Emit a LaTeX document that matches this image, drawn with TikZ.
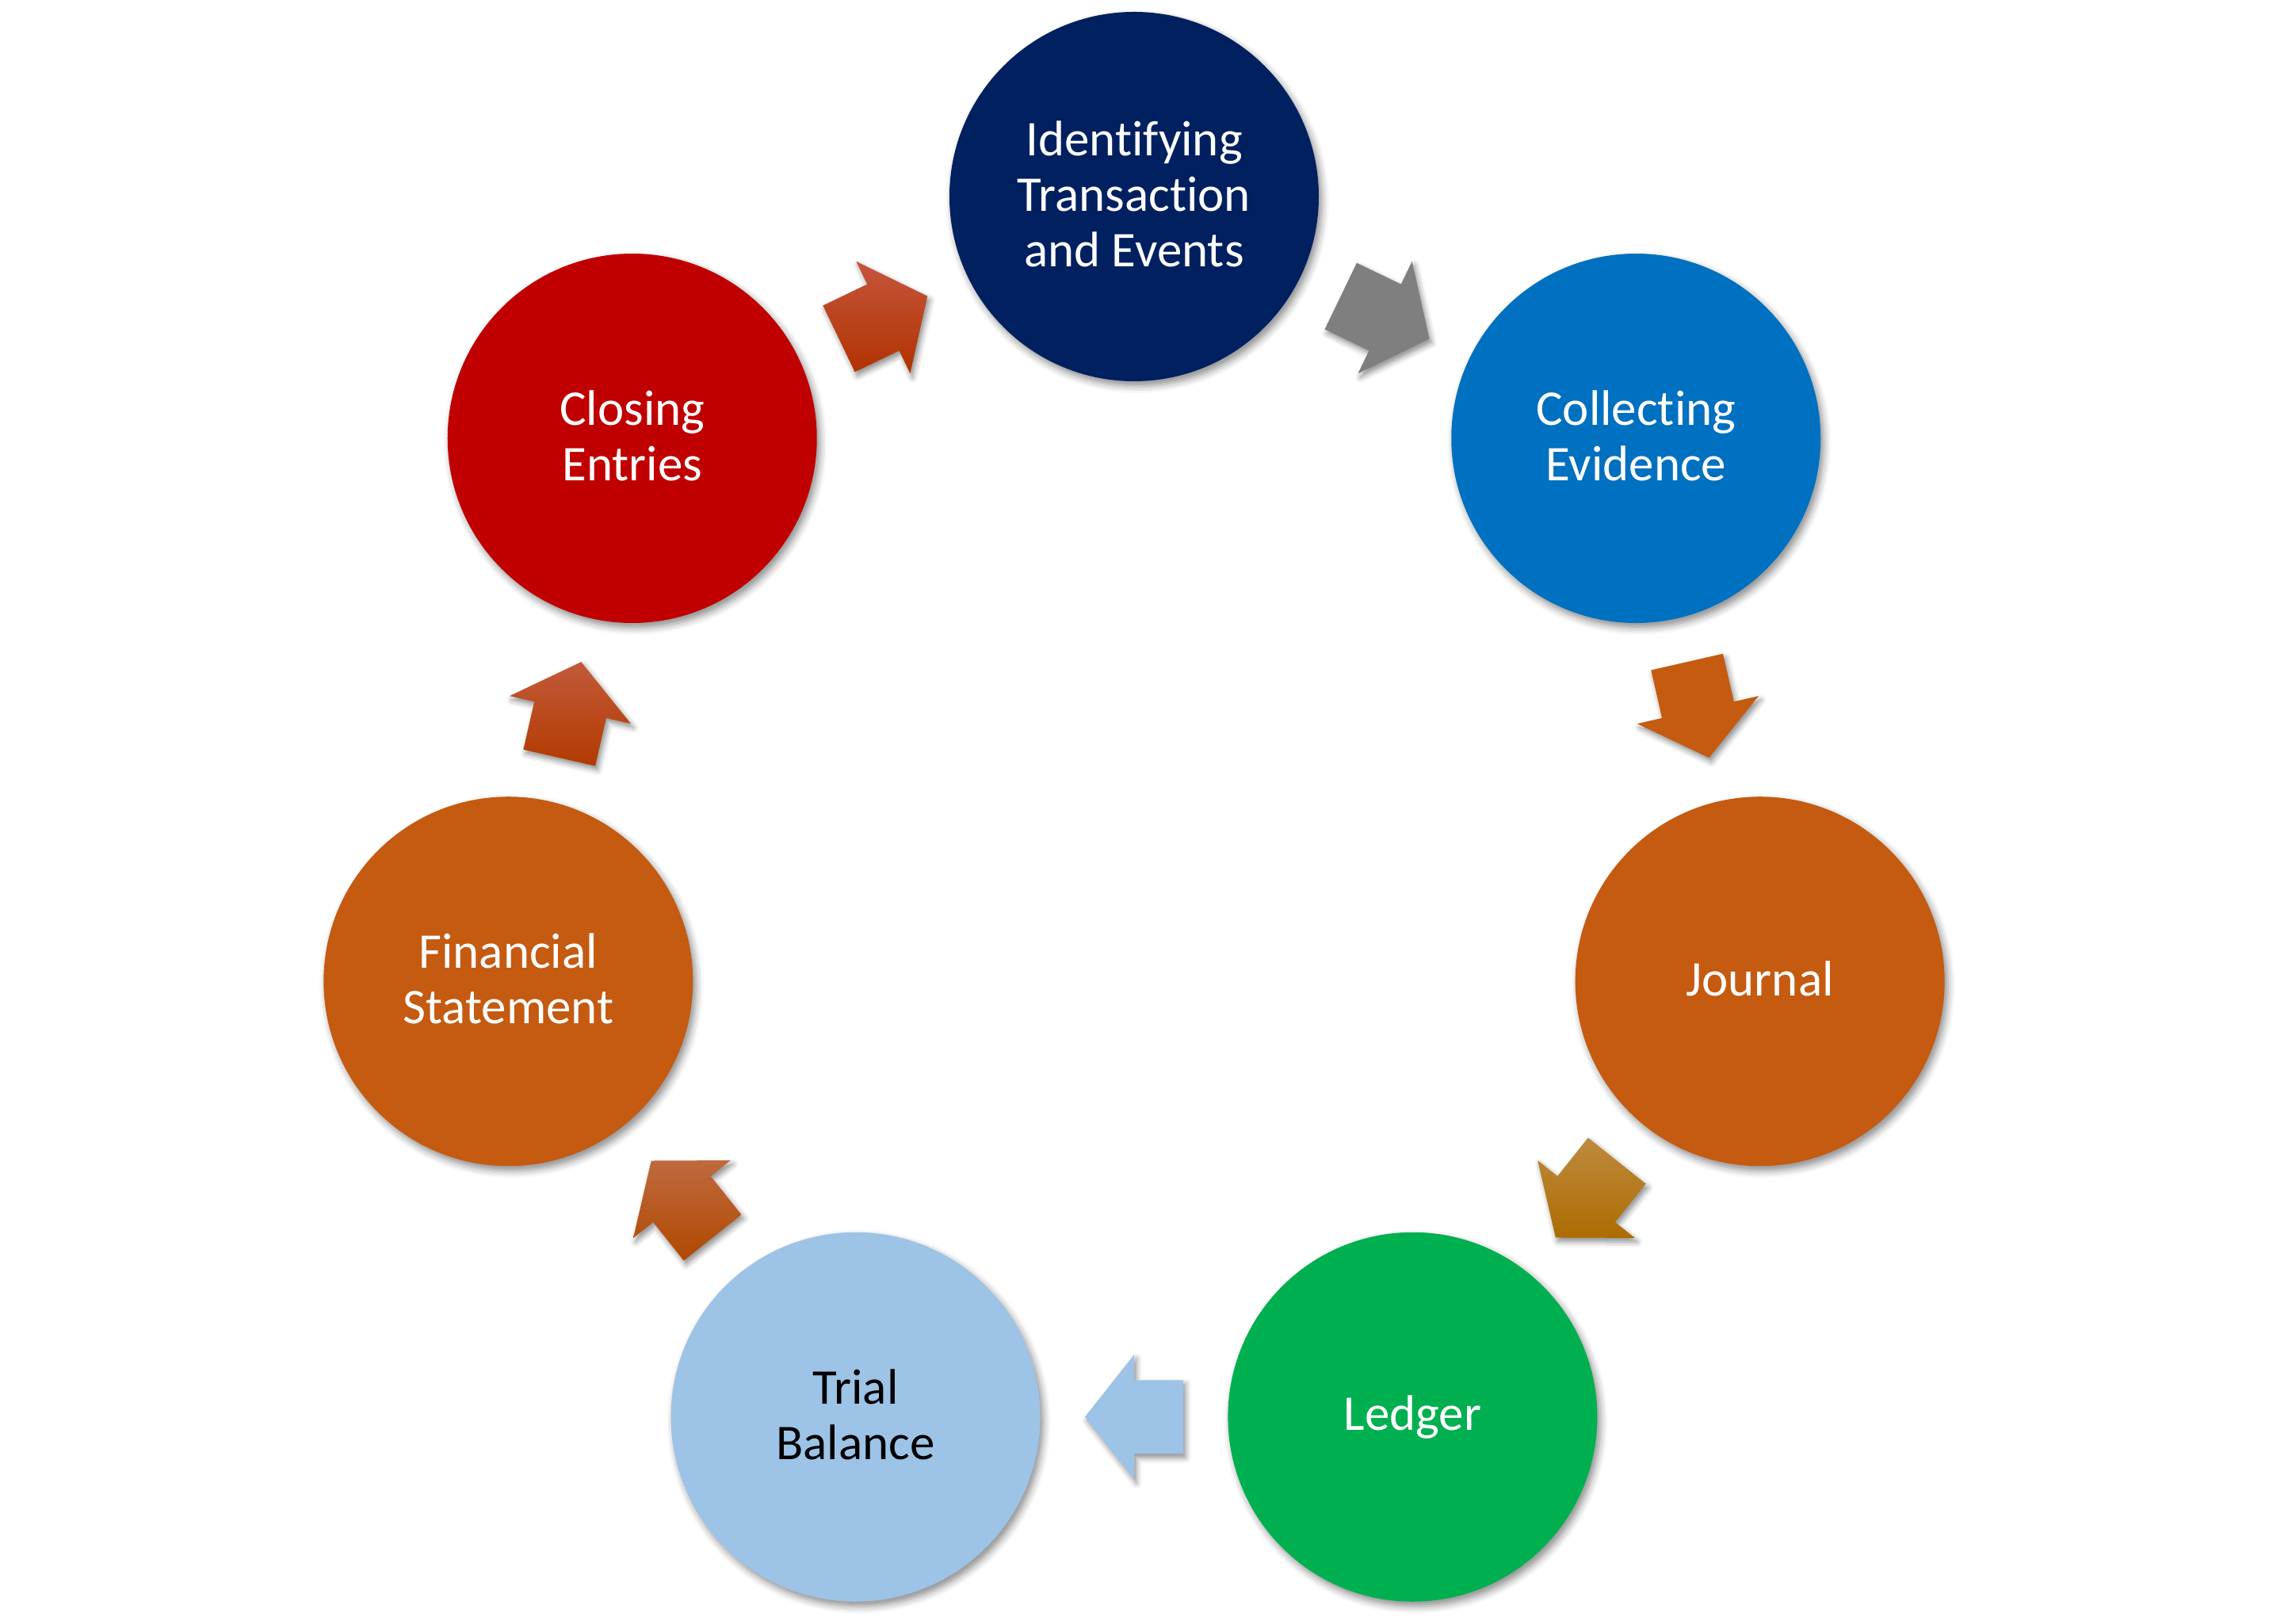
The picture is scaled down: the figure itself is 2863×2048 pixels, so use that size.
\documentclass[tikz,border=0pt]{standalone}
\usepackage{fontspec}
\setmainfont{Carlito}[RawFeature={-liga;-clig;-calt;-dlig}]
\usetikzlibrary{calc,shadows.blur}
\definecolor{cnavy}{HTML}{002060}
\definecolor{cblue}{HTML}{0070C0}
\definecolor{corange}{HTML}{C55A11}
\definecolor{cgreen}{HTML}{00B050}
\definecolor{clight}{HTML}{9DC3E6}
\definecolor{cred}{HTML}{C00000}
\definecolor{cgray}{HTML}{7F7F7F}
\newcommand\cyclearrow[3]{%
  \path[arrowbase,#3] let \p1=($(#1.center)!0.5!(#2.center)$),
    \p2=($(#2.center)-(#1.center)$), \n1={atan2(\y2,\x2)} in
    ($(\p1)+(\n1:62)$) -- ($(\p1)+(\n1+90:78.5)$) -- ($(\p1)+(\n1+90:46.5)$)
    -- ($(\p1)+(\n1+180:62)+(\n1+90:46.5)$) -- ($(\p1)+(\n1+180:62)+(\n1-90:46.5)$)
    -- ($(\p1)+(\n1-90:46.5)$) -- ($(\p1)+(\n1-90:78.5)$) -- cycle;}
\begin{document}
\begin{tikzpicture}[x=1pt,y=1pt,
  stage/.style={circle, minimum size=466pt, inner sep=0pt, align=center,
    text=white, font=\fontsize{63}{70}\selectfont,
    execute at end node={\rule[-7pt]{0pt}{7pt}},
    blur shadow={shadow xshift=4pt, shadow yshift=-6pt, shadow blur radius=9pt, shadow opacity=45}},
  arrowbase/.style={blur shadow={shadow xshift=3pt, shadow yshift=-5pt, shadow blur radius=7pt, shadow opacity=45}}]
\useasboundingbox (-1431,-990) rectangle (1432,1058);
\node[stage, fill=cnavy] (n1) at (90:810) {Identifying\\Transaction\\and Events};
\node[stage, fill=cblue] (n2) at (38.571:810) {Collecting\\Evidence};
\node[stage, fill=corange] (n3) at (-12.857:810) {Journal};
\node[stage, fill=cgreen] (n4) at (-64.286:810) {Ledger};
\node[stage, fill=clight, text=black] (n5) at (-115.714:810) {Trial\\Balance};
\node[stage, fill=corange] (n6) at (-167.143:810) {Financial\\Statement};
\node[stage, fill=cred] (n7) at (141.429:810) {Closing\\Entries};
\cyclearrow{n1}{n2}{fill=cgray}
\cyclearrow{n2}{n3}{fill=corange}
\cyclearrow{n3}{n4}{top color={rgb,255:red,190;green,138;blue,62}, bottom color={rgb,255:red,172;green,108;blue,0}}
\cyclearrow{n4}{n5}{fill=clight}
\cyclearrow{n5}{n6}{top color={rgb,255:red,191;green,106;blue,62}, bottom color={rgb,255:red,176;green,72;blue,0}}
\cyclearrow{n6}{n7}{top color={rgb,255:red,194;green,90;blue,58}, bottom color={rgb,255:red,178;green,58;blue,0}}
\cyclearrow{n7}{n1}{top color={rgb,255:red,196;green,86;blue,60}, bottom color={rgb,255:red,178;green,50;blue,0}}
\end{tikzpicture}
\end{document}
